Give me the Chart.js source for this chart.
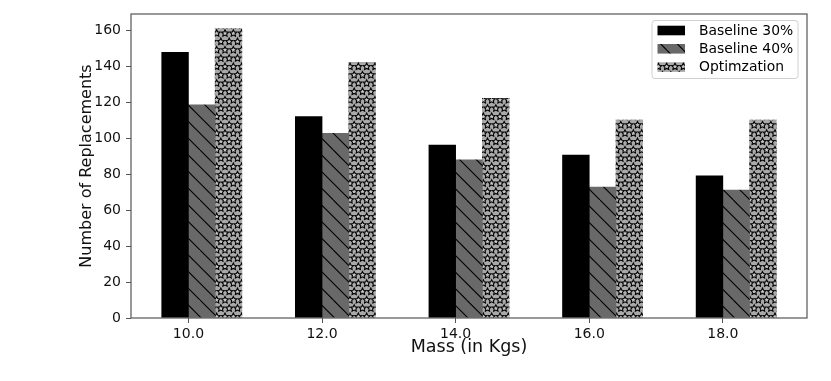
<!DOCTYPE html>
<html>
<head>
<meta charset="utf-8">
<script src="https://cdn.jsdelivr.net/npm/chart.js@4.4.0/dist/chart.umd.min.js"></script>
<style>
  html, body { margin: 0; padding: 0; background: #fff; }
</style>
</head>
<body>
<canvas id="chart" width="831" height="381"></canvas>
<script>
// --------- Data ---------
const masses = [10, 12, 14, 16, 18];
const baseline30 = [148.0, 112.2, 96.4, 90.8, 79.2];
const baseline40 = [118.7, 102.9, 88.1, 72.9, 71.2];
const optimization = [161.3, 142.4, 122.4, 110.3, 110.2];
const seriesNames = ["Baseline 30%", "Baseline 40%", "Optimzation"];
const xTicks = [10, 12, 14, 16, 18];
const yTicks = [0, 20, 40, 60, 80, 100, 120, 140, 160];

const barWidth = 0.4;
const FONT = "'DejaVu Sans', sans-serif";

// --------- Hatch patterns ---------

function makeTile(bg, drawFn) {
  const c = document.createElement("canvas");
  c.width = 50;
  c.height = 50;
  const g = c.getContext("2d");
  g.fillStyle = bg;
  g.fillRect(0, 0, 50, 50);
  g.strokeStyle = "#000";
  drawFn(g);
  return document.createElement("canvas").getContext("2d").createPattern(c, "repeat");
}

// back-slash lines, 6 per inch
function slashes(g) {
  g.lineWidth = 1.1;
  const step = 50 / 3;
  for (let x0 = -50; x0 <= 50; x0 += step) {
    g.beginPath();
    g.moveTo(x0, 0);
    g.lineTo(x0 + 50, 50);
    g.stroke();
  }
}

function star(g, cx, cy, r) {
  g.beginPath();
  for (let i = 0; i < 10; i++) {
    const rr = i % 2 === 0 ? r : r * 0.5;
    const a = -Math.PI / 2 + i * Math.PI / 5;
    const px = cx + rr * Math.cos(a), py = cy + rr * Math.sin(a);
    if (i === 0) g.moveTo(px, py); else g.lineTo(px, py);
  }
  g.closePath();
  g.fillStyle = "#c4c4c4";
  g.fill();
  g.stroke();
}

// staggered rows of small stars
function stars(g) {
  g.lineWidth = 1.1;
  const step = 50 / 6;
  for (let row = -1; row <= 7; row++) {
    const shift = row % 2 === 0 ? 0 : step / 2;
    for (let col = -1; col <= 7; col++) {
      star(g, col * step + shift, row * step, 3.6);
    }
  }
}

const fills = [
  "#000000",
  makeTile("#696969", slashes),
  makeTile("#a9a9a9", stars)
];

function seriesPoints(values, i) {
  return masses.map((m, k) => ({ x: m + (i - 0.5) * barWidth, y: values[k] }));
}

// matplotlib-like margins around the bars
const xLo = masses[0] - barWidth;
const xHi = masses[masses.length - 1] + 2 * barWidth;
const xPad = 0.05 * (xHi - xLo);
const yTop = 1.05 * Math.max(...baseline30, ...baseline40, ...optimization);

// --------- Plugins ---------

const frame = {
  id: "frame",
  afterDatasetsDraw(chart) {
    const { ctx, chartArea: a } = chart;
    ctx.save();
    ctx.strokeStyle = "#555";
    ctx.lineWidth = 1.2;
    ctx.strokeRect(a.left, a.top, a.right - a.left, a.bottom - a.top);
    ctx.restore();
  }
};

const boxLegend = {
  id: "boxLegend",
  afterDraw(chart) {
    const { ctx, chartArea: a } = chart;
    const x = a.right - 155, y = a.top + 6.5, w = 146, h = 58;
    ctx.save();
    ctx.beginPath();
    ctx.roundRect(x, y, w, h, 3);
    ctx.fillStyle = "rgba(255,255,255,0.8)";
    ctx.fill();
    ctx.strokeStyle = "#d0d0d0";
    ctx.lineWidth = 1;
    ctx.stroke();
    ctx.font = "13.9px " + FONT;
    ctx.textBaseline = "middle";
    chart.data.datasets.forEach((ds, i) => {
      const cy = y + 10 + i * 18.3;
      ctx.fillStyle = ds.backgroundColor;
      ctx.fillRect(x + 5.5, cy - 4.8, 27.5, 9.6);
      ctx.fillStyle = "#000";
      ctx.fillText(ds.label, x + 47, cy + 0.5);
    });
    ctx.restore();
  }
};

// --------- Chart ---------

new Chart(document.getElementById("chart").getContext("2d"), {
  type: "bar",
  data: {
    datasets: [baseline30, baseline40, optimization].map((vals, i) => ({
      label: seriesNames[i],
      data: seriesPoints(vals, i),
      backgroundColor: fills[i],
      borderWidth: 0
    }))
  },
  options: {
    responsive: false,
    animation: false,
    layout: { padding: { top: 14, right: 24, left: 0, bottom: 0 } },
    datasets: { bar: { grouped: false, categoryPercentage: 1, barPercentage: 1 } },
    plugins: {
      legend: { display: false },
      tooltip: { enabled: false }
    },
    scales: {
      x: {
        type: "linear",
        offset: false,
        bounds: "data",
        min: xLo - xPad,
        max: xHi + xPad,
        afterBuildTicks: s => { s.ticks = xTicks.map(v => ({ value: v })); },
        afterFit: s => { s.height = 63; },
        border: { display: false },
        grid: { drawOnChartArea: false, offset: false, tickLength: 5, tickColor: "#555", tickWidth: 1 },
        ticks: {
          padding: 3,
          color: "#111",
          autoSkip: false,
          maxRotation: 0,
          font: { family: FONT, size: 14 },
          callback: v => v.toFixed(1)
        },
        title: {
          display: true,
          text: "Mass (in Kgs)",
          color: "#111",
          font: { family: FONT, size: 17.5 },
          padding: { top: 0, bottom: 23 }
        }
      },
      y: {
        bounds: "data",
        min: 0,
        max: yTop,
        afterBuildTicks: s => { s.ticks = yTicks.map(v => ({ value: v })); },
        afterFit: s => { s.width = 131; },
        border: { display: false },
        grid: { drawOnChartArea: false, tickLength: 5, tickColor: "#555", tickWidth: 1 },
        ticks: {
          padding: 5,
          color: "#111",
          font: { family: FONT, size: 14 }
        },
        title: {
          display: true,
          text: "Number of Replacements",
          color: "#111",
          font: { family: FONT, size: 16 },
          padding: { top: 77, bottom: 0 }
        }
      }
    }
  },
  plugins: [frame, boxLegend]
});
</script>
</body>
</html>
